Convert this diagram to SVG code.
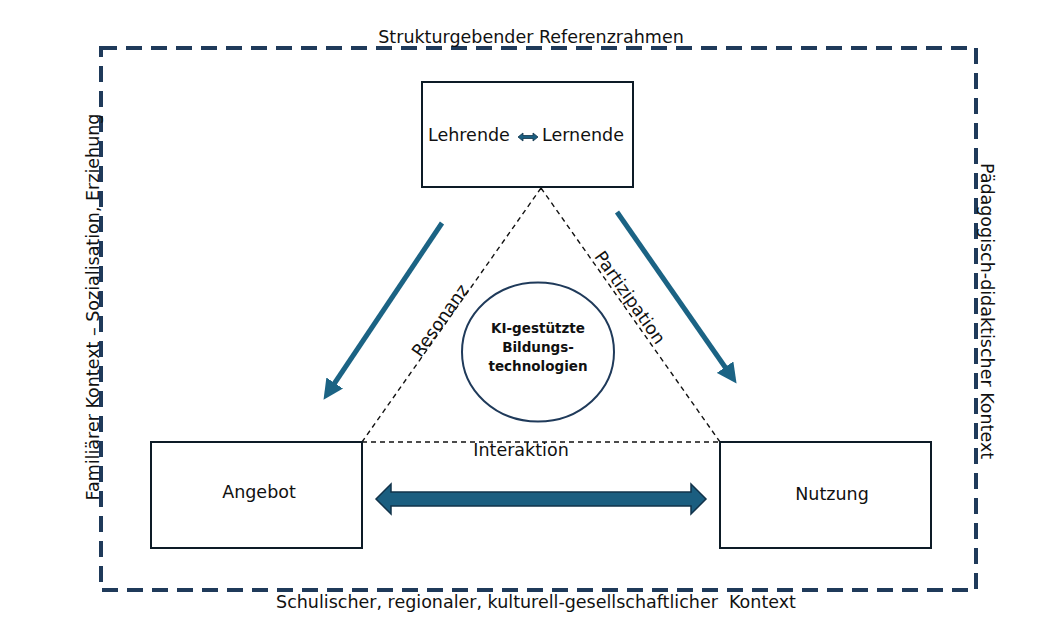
<svg xmlns="http://www.w3.org/2000/svg" width="1038" height="623" viewBox="0 0 1038 623">
<defs>
<style>
text{font-family:"DejaVu Sans","Liberation Sans",Arial,sans-serif;fill:#111;}
.lbl{font-size:17.5px;}
.box{fill:#fff;stroke:#0d1b26;stroke-width:2;}
.tri{fill:none;stroke:#111;stroke-width:1.4;stroke-dasharray:5 4;}
.frame{fill:none;stroke:#1f3a5a;stroke-width:4;stroke-dasharray:16 9;}
.arr{stroke:#1b6384;stroke-width:5;fill:none;}
.ki{font-size:13.5px;font-weight:bold;}
</style>
<marker id="ah" viewBox="0 0 10 10" refX="6" refY="5" markerWidth="4" markerHeight="4" orient="auto" markerUnits="strokeWidth">
<path d="M0,0 L10,5 L0,10 Z" fill="#1b6384"/>
</marker>
</defs>
<rect width="1038" height="623" fill="#fff"/>
<g id="frame">
<rect class="frame" x="101" y="48" width="875" height="542"/>
<text class="lbl" x="531" y="43" text-anchor="middle">Strukturgebender Referenzrahmen</text>
<text class="lbl" x="536" y="608" text-anchor="middle" xml:space="preserve">Schulischer, regionaler, kulturell-gesellschaftlicher  Kontext</text>
<text class="lbl" transform="translate(99,307) rotate(-90)" text-anchor="middle">Familiärer Kontext – Sozialisation, Erziehung</text>
<text class="lbl" transform="translate(981,311) rotate(90)" text-anchor="middle">Pädagogisch-didaktischer Kontext</text>
</g>
<g id="connectors">
<path class="tri" d="M541,188 L362,442 M541,188 L720,442 M362,442 L720,442"/>
<line class="arr" x1="442" y1="223" x2="328" y2="393" marker-end="url(#ah)"/>
<line class="arr" x1="617" y1="212" x2="732" y2="377" marker-end="url(#ah)"/>
<path d="M376,499 L391,484 L391,492 L691,492 L691,484 L706,499 L691,514 L691,506 L391,506 L391,514 Z" fill="#1b5e80" stroke="#12334a" stroke-width="1.5"/>
<text class="lbl" transform="translate(445,324) rotate(-54.8)" text-anchor="middle">Resonanz</text>
<text class="lbl" transform="translate(625,301) rotate(54.8)" text-anchor="middle">Partizipation</text>
<text class="lbl" x="521" y="456" text-anchor="middle">Interaktion</text>
</g>
<g id="lehrende">
<rect class="box" x="422" y="82" width="211" height="105"/>
<text class="lbl" x="428" y="141">Lehrende</text>
<path d="M518,137 L523,133 L523,135.5 L533,135.5 L533,133 L538,137 L533,141 L533,138.5 L523,138.5 L523,141 Z" fill="#1b5e80" stroke="#12334a" stroke-width="0.8"/>
<text class="lbl" x="542" y="141">Lernende</text>
</g>
<g id="angebot">
<rect class="box" x="151" y="442" width="211" height="106"/>
<text class="lbl" x="259" y="498" text-anchor="middle">Angebot</text>
</g>
<g id="nutzung">
<rect class="box" x="720" y="442" width="211" height="106"/>
<text class="lbl" x="832" y="500" text-anchor="middle">Nutzung</text>
</g>
<g id="ki">
<ellipse cx="538" cy="352" rx="76" ry="69.5" fill="#fff" stroke="#1f3a5a" stroke-width="2"/>
<text class="ki" x="538" y="333" text-anchor="middle">KI-gestützte</text>
<text class="ki" x="538" y="352" text-anchor="middle">Bildungs-</text>
<text class="ki" x="538" y="371" text-anchor="middle">technologien</text>
</g>
</svg>
